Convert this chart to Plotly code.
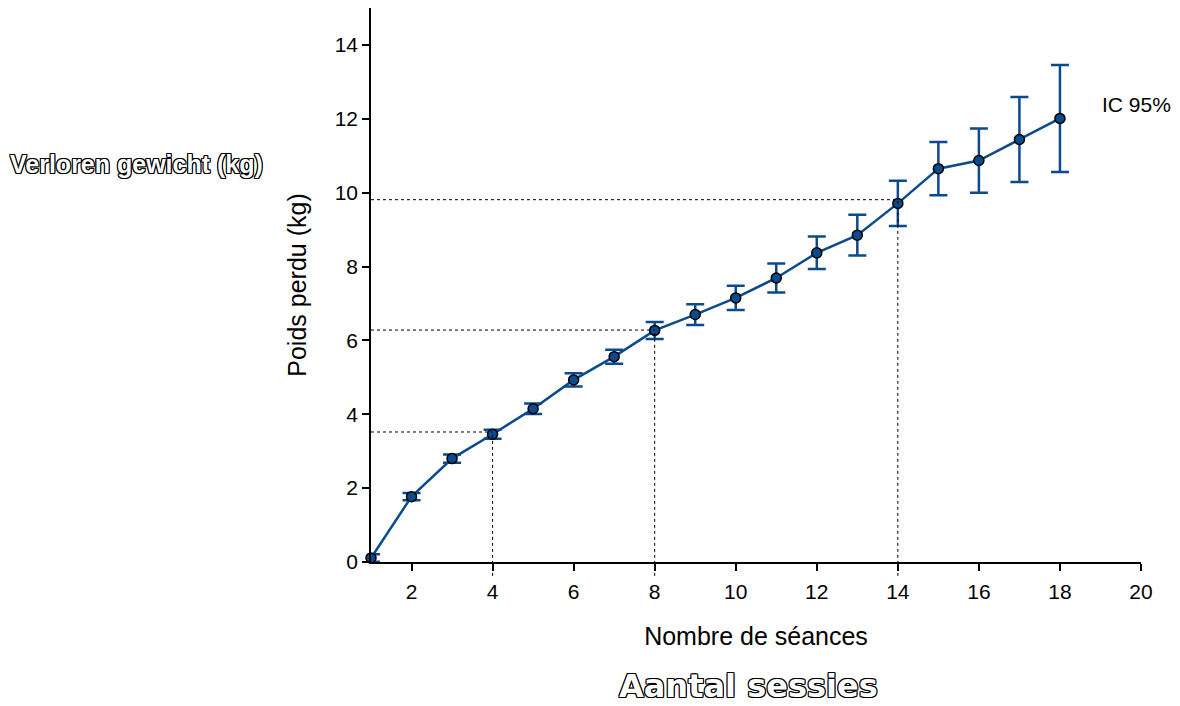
import plotly.graph_objects as go

# ---- data ----
sessions = list(range(1, 19))
weight_lost = [0.11, 1.77, 2.80, 3.46, 4.15, 4.93, 5.56, 6.27, 6.70, 7.15,
               7.69, 8.37, 8.85, 9.71, 10.65, 10.87, 11.44, 12.01]
ci95 = [0.10, 0.10, 0.11, 0.12, 0.14, 0.18, 0.19, 0.23, 0.28, 0.33,
        0.39, 0.44, 0.55, 0.61, 0.72, 0.87, 1.15, 1.45]
guide_x = [4, 8, 14]
guide_y = [3.52, 6.28, 9.81]
x_ticks = list(range(2, 21, 2))
y_ticks = list(range(0, 15, 2))
X_MIN, X_MAX = 1, 20
Y_MIN, Y_MAX = 0, 15

BLUE = "#0b4a8c"
FONT = "Liberation Sans, Arial, sans-serif"

fig = go.Figure()
fig.add_trace(go.Scatter(
    x=sessions, y=weight_lost,
    mode="lines+markers",
    line=dict(color=BLUE, width=2.5),
    marker=dict(color=BLUE, size=10, line=dict(color="black", width=1.5)),
    error_y=dict(type="data", array=ci95, visible=True, color=BLUE,
                 thickness=2.5, width=9),
    cliponaxis=False,
    showlegend=False,
))

shapes = []
for gx, gy in zip(guide_x, guide_y):
    # horizontal guide from y-axis to the point
    shapes.append(dict(type="line", xref="x", yref="y", x0=X_MIN, x1=gx,
                       y0=gy, y1=gy,
                       line=dict(color="black", width=1, dash="dot")))
    # vertical guide from the level down slightly past the x-axis
    shapes.append(dict(type="line", xref="x", yref="paper", x0=gx, x1=gx,
                       y0=-0.025, y1=gy / Y_MAX,
                       line=dict(color="black", width=1, dash="dot")))

outline = ("1px 1px 0 #000, -1px -1px 0 #000, 1px -1px 0 #000, -1px 1px 0 #000,"
           " 0 1px 0 #000, 0 -1px 0 #000, 1px 0 0 #000, -1px 0 0 #000")

fig.update_layout(
    width=1172, height=698,
    margin=dict(l=363, r=39, t=0, b=144),
    paper_bgcolor="white", plot_bgcolor="white",
    font=dict(family=FONT, color="black", size=21),
    shapes=shapes,
    xaxis=dict(
        range=[X_MIN, X_MAX], tickvals=x_ticks,
        showgrid=False, zeroline=False,
        showline=True, linecolor="black", linewidth=1.5,
        ticks="outside", ticklen=7, tickwidth=1.5, tickcolor="black",
        tickfont=dict(size=21), ticklabelstandoff=3,
        title=dict(text="Nombre de séances", font=dict(size=25), standoff=26),
    ),
    yaxis=dict(
        range=[Y_MIN, Y_MAX], tickvals=y_ticks,
        showgrid=False, zeroline=False,
        showline=True, linecolor="black", linewidth=1.5,
        ticks="outside", ticklen=7, tickwidth=1.5, tickcolor="black",
        tickfont=dict(size=21),
        title=dict(text="Poids perdu (kg)", font=dict(size=25), standoff=21),
    ),
    annotations=[
        dict(text="IC 95%", x=19.0, y=12.4, xref="x", yref="y",
             xanchor="left", yanchor="middle", showarrow=False,
             font=dict(size=21)),
        dict(text="<b>Verloren gewicht (kg)</b>", x=-0.305, y=0.719,
             xref="paper", yref="paper", xanchor="center", yanchor="middle",
             showarrow=False,
             font=dict(family="Liberation Sans, Arial, sans-serif",
                       size=25, color="white", shadow=outline)),
        dict(text="<b>Aantal sessies</b>", x=0.49, y=-0.224,
             xref="paper", yref="paper", xanchor="center", yanchor="middle",
             showarrow=False,
             font=dict(family="DejaVu Sans, sans-serif", size=32,
                       color="white", shadow=outline)),
    ],
)

fig.write_html("out.html")
